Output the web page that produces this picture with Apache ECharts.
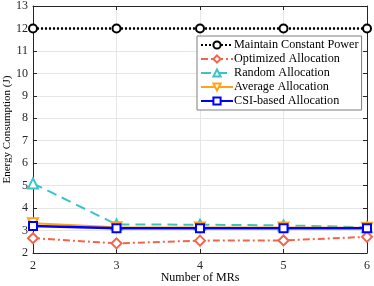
<!DOCTYPE html>
<html><head><meta charset="utf-8">
<script src="https://cdn.jsdelivr.net/npm/echarts@6/dist/echarts.min.js"></script>
<style>html,body{margin:0;padding:0;background:#fff}#c{width:374px;height:286px}</style>
</head><body><div id="c"></div>
<script>
const mrs = [2, 3, 4, 5, 6];
const constantPower = [12, 12, 12, 12, 12];
const optimized = [2.66, 2.43, 2.55, 2.56, 2.72];
const randomAlloc = [5.1, 3.27, 3.26, 3.23, 3.15];
const averageAlloc = [3.33, 3.15, 3.14, 3.14, 3.12];
const csiAlloc = [3.2, 3.1, 3.1, 3.1, 3.1];
const yTicks = [2,3,4,5,6,7,8,9,10,11,12,13];

const font = 'Liberation Serif';
function pairs(arr){ return mrs.map((x,i)=>[x, arr[i]]); }
const chart = echarts.init(document.getElementById('c'), null, {renderer:'canvas'});
const axisCommon = {
  axisLine:{show:true, lineStyle:{color:'#262626', width:1}},
  axisTick:{show:true, inside:true, length:4, lineStyle:{color:'#262626'}},
};
chart.setOption({
  animation:false,
  backgroundColor:'#fff',
  grid:{left:33, right:7, top:6, bottom:33, containLabel:false, outerBoundsMode:'none'},
  legend:{
    orient:'vertical', left:197, top:36, itemWidth:32, itemHeight:9, itemGap:0,
    padding:[2,3,2,3],
    backgroundColor:'#fff', borderColor:'#7f7f7f', borderWidth:1,
    textStyle:{fontFamily:font, fontSize:12.2, lineHeight:14, color:'#000', padding:[0,0,0,-4]},
    data:['Maintain Constant Power','Optimized Allocation','Random Allocation','Average Allocation','CSI-based Allocation']
  },
  xAxis:[{
    type:'value', min:2, max:6, interval:1, ...axisCommon,
    name:'Number of MRs', nameLocation:'middle', nameGap:19, nameMoveOverlap:false,
    nameTextStyle:{fontFamily:font, fontSize:12, color:'#000'},
    axisLabel:{fontFamily:font, fontSize:12, color:'#262626', margin:7},
    splitLine:{show:true, lineStyle:{color:'#e6e6e6', width:1}}
  },{
    type:'value', min:2, max:6, interval:1, position:'top', ...axisCommon,
    axisLabel:{show:false}, splitLine:{show:false}
  }],
  yAxis:[{
    type:'value', min:2, max:13, interval:1, ...axisCommon,
    name:'Energy Consumption (J)', nameLocation:'middle', nameGap:20, nameMoveOverlap:false,
    nameTextStyle:{fontFamily:font, fontSize:11, color:'#000'},
    axisLabel:{fontFamily:font, fontSize:12, color:'#262626', margin:5,
      formatter:v=>yTicks.includes(v)?String(v):''},
    splitLine:{show:true, lineStyle:{color:'#e6e6e6', width:1}}
  },{
    type:'value', min:2, max:13, interval:1, position:'right', ...axisCommon,
    axisLabel:{show:false}, splitLine:{show:false}
  }],
  series:[
    {name:'Maintain Constant Power', type:'line', data:pairs(constantPower), z:5,
     lineStyle:{color:'#000', width:2.5, type:[2,2]}, symbol:'circle', symbolSize:8,
     itemStyle:{color:'#fff', borderColor:'#000', borderWidth:2}},
    {name:'Optimized Allocation', type:'line', data:pairs(optimized),
     lineStyle:{color:'#f4644a', width:2, type:[7,3,2,3]}, symbol:'diamond', symbolSize:10,
     itemStyle:{color:'#fff', borderColor:'#f4644a', borderWidth:2}},
    {name:'Random Allocation', type:'line', data:pairs(randomAlloc),
     lineStyle:{color:'#3cc3c8', width:2, type:[10,6]}, symbol:'triangle', symbolSize:10,
     itemStyle:{color:'#fff', borderColor:'#3cc3c8', borderWidth:2}},
    {name:'Average Allocation', type:'line', data:pairs(averageAlloc),
     lineStyle:{color:'#ffa31a', width:2}, symbol:'triangle', symbolRotate:180, symbolSize:10,
     itemStyle:{color:'#fff', borderColor:'#ffa31a', borderWidth:2}},
    {name:'CSI-based Allocation', type:'line', data:pairs(csiAlloc), z:4,
     lineStyle:{color:'#0000ff', width:2.5}, symbol:'rect', symbolSize:8,
     itemStyle:{color:'#fff', borderColor:'#0000ff', borderWidth:2}}
  ]
});
</script></body></html>
